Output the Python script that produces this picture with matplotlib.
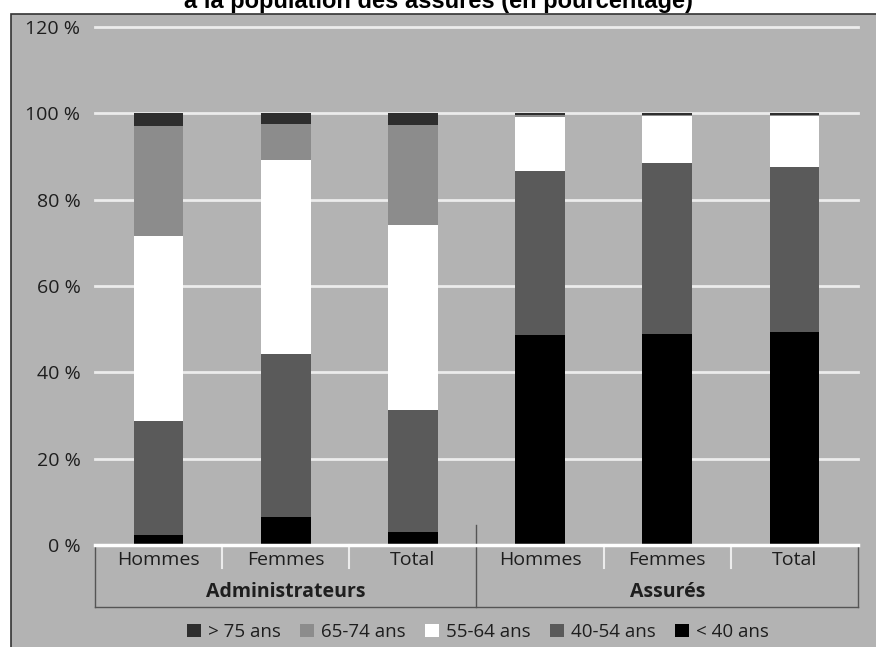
"""Stacked bar chart: age structure of administrators vs insured (percent)."""

import matplotlib
matplotlib.use("Agg")
import matplotlib.pyplot as plt
from matplotlib.patches import Rectangle

plt.rcParams["font.family"] = ["Open Sans", "DejaVu Sans"]

# Data (percent)
categories = ["Hommes", "Femmes", "Total", "Hommes", "Femmes", "Total"]
groups = ["Administrateurs", "Assurés"]
age_labels = ["< 40 ans", "40-54 ans", "55-64 ans", "65-74 ans", "> 75 ans"]
under_40 = [2.3, 6.4, 3.0, 48.7, 48.9, 49.4]
age_40_54 = [26.5, 37.9, 28.3, 38.0, 39.5, 38.1]
age_55_64 = [42.7, 44.9, 42.9, 12.5, 10.9, 11.8]
age_65_74 = [25.6, 8.4, 23.2, 0.3, 0.3, 0.3]
over_75 = [2.9, 2.4, 2.6, 0.5, 0.4, 0.4]
y_ticks = [0, 20, 40, 60, 80, 100, 120]

series = [under_40, age_40_54, age_55_64, age_65_74, over_75]
colors = ["#000000", "#5a5a5a", "#ffffff", "#8c8c8c", "#2e2e2e"]
txt = "#1e1e1e"

W, H = 876, 647
fig = plt.figure(figsize=(W / 100, H / 100), dpi=100, facecolor="white")

# grey panel behind everything
panel = Rectangle((11 / W, -0.01), 1.0, (H - 14) / H + 0.01,
                  transform=fig.transFigure, facecolor="#b3b3b3",
                  edgecolor="#333333", linewidth=1.2, zorder=-5)
fig.patches.append(panel)

# title, cut at the top as in the source
fig.text(0.5, 1 - 8 / H, "à la population des assurés (en pourcentage)",
         ha="center", va="baseline", fontsize=17, fontweight="bold",
         family=["Liberation Sans", "DejaVu Sans"])

ax = fig.add_axes([95 / W, (H - 545) / H, (858 - 95) / W, (545 - 27) / H])
ax.set_facecolor("none")
ax.set_zorder(2)

x = list(range(len(categories)))
bottom = [0.0] * len(categories)
handles = []
for vals, col, lab in zip(series, colors, age_labels):
    b = ax.bar(x, vals, bottom=bottom, width=0.39, color=col, label=lab,
               linewidth=0, zorder=3)
    handles.append(b)
    bottom = [bo + v for bo, v in zip(bottom, vals)]

ax.set_xlim(-0.5, 5.5)
ax.set_ylim(0, 120)
ax.set_yticks(y_ticks)
ax.set_yticklabels([f"{t} %" for t in y_ticks], fontsize=14, color=txt)
ax.tick_params(axis="y", length=0, pad=10.5)
ax.set_xticks(x)
ax.set_xticklabels(categories, fontsize=14, color=txt)
ax.tick_params(axis="x", length=0, pad=4.5)
for s in ax.spines.values():
    s.set_visible(False)

for t in y_ticks[1:]:
    ax.axhline(t, color="#ececec", linewidth=2, zorder=1, clip_on=False)
ax.axhline(0, color="white", linewidth=2.5, zorder=4, clip_on=False)

# category separators under the axis
for xs in [0.5, 1.5, 3.5, 4.5]:
    ax.plot([xs, xs], [0, -5.3], color="#ececec", linewidth=1.5, clip_on=False, zorder=2)
# group box
frame = "#555555"
ax.plot([-0.5, -0.5], [0, -14.4], color=frame, linewidth=1, clip_on=False)
ax.plot([5.5, 5.5], [0, -14.4], color=frame, linewidth=1, clip_on=False)
ax.plot([-0.5, 5.5], [-14.4, -14.4], color=frame, linewidth=1, clip_on=False)
ax.plot([2.5, 2.5], [4.6, -14.4], color=frame, linewidth=1, clip_on=False, zorder=2)

ax.text(1, -10.9, groups[0], ha="center", va="center", fontsize=14,
        fontweight="bold", color=txt)
ax.text(4, -10.9, groups[1], ha="center", va="center", fontsize=14,
        fontweight="bold", color=txt)

fig.legend(handles[::-1], age_labels[::-1], loc="center", ncol=5,
           bbox_to_anchor=(478 / W, (H - 632) / H), frameon=False,
           fontsize=13.5, handlelength=0.75, handleheight=0.75,
           handletextpad=0.4, columnspacing=1.0, labelcolor=txt)

fig.savefig("out.png", dpi=100, facecolor="white")
